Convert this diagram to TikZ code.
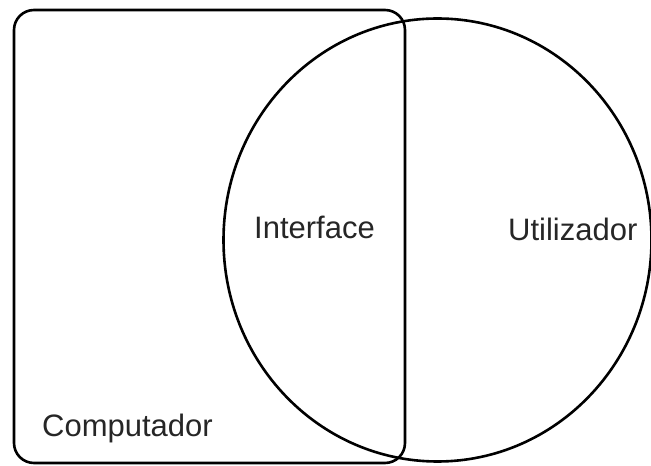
\documentclass[tikz,border=0pt]{standalone}
\usepackage{fontspec}
\setmainfont{Liberation Sans}
\begin{document}
\begin{tikzpicture}[x=1pt,y=1pt,
  outline/.style={draw=black,line width=2.6pt},
  label/.style={inner sep=0pt,anchor=base west,text=black!85,font=\fontsize{31}{36}\selectfont}]
\useasboundingbox (0,0) rectangle (651,466);
% computer: rounded box
\node[outline,rounded corners=20pt,minimum width=391pt,minimum height=453pt,inner sep=0pt]
  (computer) at (209.5,229.5) {};
% user: ellipse overlapping the box (its right edge runs off the page)
\coordinate (user) at (437.5,226);
\draw[outline] (user) ellipse [x radius=214, y radius=221.5];
% labels
\node[label] (interface) at (254,227) {Interface};
\node[label] (utilizador) at (508,225) {Utilizador};
\node[label] (computador) at (42,29) {Computador};
\end{tikzpicture}
\end{document}
